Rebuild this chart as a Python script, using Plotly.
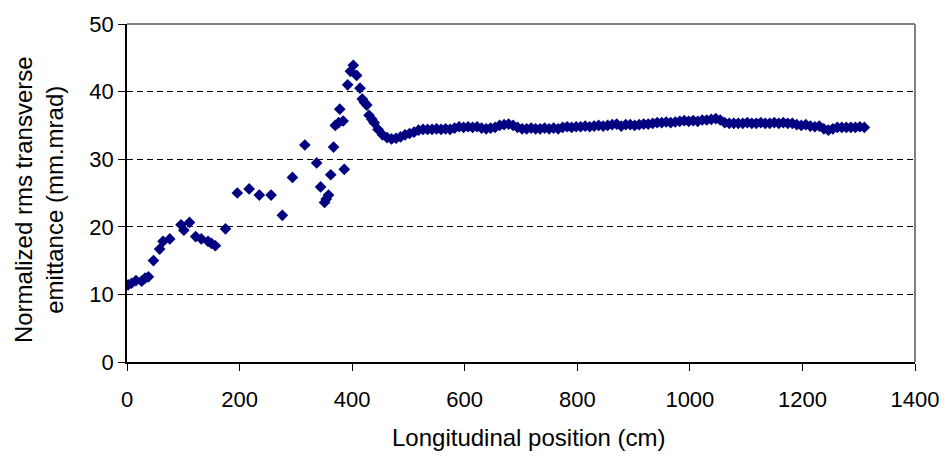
import plotly.graph_objects as go

# Longitudinal position (cm) and normalized rms transverse emittance (mm.mrad)
position_cm = [
    2, 8, 16, 26, 32, 38, 47, 58, 64, 76, 96, 101, 111, 122, 132, 144, 150, 157,
    175, 196, 217, 235, 256, 276, 294, 316, 337, 344, 351, 354, 358, 362, 367,
    370, 376, 378, 384, 386, 392, 397, 402, 408, 414, 418, 422, 426, 430, 435, 439,
    446, 454, 462, 470, 478, 486, 494, 502, 510, 518, 526, 534, 542, 550, 558,
    566, 574, 582, 590, 598, 606, 614, 622, 630, 638, 646, 654, 662, 670, 678,
    686, 694, 702, 710, 718, 726, 734, 742, 750, 758, 766, 774, 782, 790, 798,
    806, 814, 822, 830, 838, 846, 854, 862, 870, 878, 886, 894, 902, 910, 918,
    926, 934, 942, 950, 958, 966, 974, 982, 990, 998, 1006, 1014, 1022, 1030,
    1038, 1046, 1054, 1062, 1070, 1078, 1086, 1094, 1102, 1110, 1118, 1126,
    1134, 1142, 1150, 1158, 1166, 1174, 1182, 1190, 1198, 1206, 1214, 1222,
    1230, 1238, 1246, 1254, 1262, 1270, 1278, 1286, 1294, 1302, 1310,
]
emittance = [
    11.4, 11.65, 12.05, 11.95, 12.4, 12.6, 15.0, 16.7, 17.85, 18.2, 20.3, 19.5,
    20.65, 18.55, 18.2, 17.85, 17.55, 17.2, 19.7, 25.0, 25.6, 24.7, 24.7, 21.7,
    27.3, 32.1, 29.45, 25.9, 23.6, 24.1, 24.7, 27.7, 31.8, 35.0, 35.4, 37.4,
    35.65, 28.5, 41.0, 43.0, 43.9, 42.4, 40.5, 38.9, 38.4, 38.0, 36.5, 35.9, 35.4,
    34.4, 33.6, 33.2, 33.0, 33.1, 33.3, 33.6, 33.8, 34.0, 34.3, 34.4, 34.4, 34.4,
    34.5, 34.4, 34.5, 34.4, 34.6, 34.8, 34.7, 34.8, 34.7, 34.8, 34.6, 34.5, 34.6,
    34.7, 35.0, 35.1, 35.2, 35.0, 34.7, 34.5, 34.5, 34.6, 34.5, 34.5, 34.6, 34.5,
    34.6, 34.5, 34.7, 34.8, 34.7, 34.8, 34.8, 34.9, 34.8, 34.9, 35.0, 34.9, 35.0,
    35.1, 35.2, 34.9, 35.1, 35.1, 35.0, 35.1, 35.2, 35.2, 35.3, 35.4, 35.4, 35.5,
    35.4, 35.5, 35.6, 35.7, 35.6, 35.7, 35.6, 35.8, 35.8, 35.9, 36.0, 35.8, 35.4,
    35.3, 35.3, 35.3, 35.3, 35.4, 35.3, 35.3, 35.4, 35.3, 35.3, 35.4, 35.3, 35.4,
    35.3, 35.3, 35.1, 35.0, 35.1, 34.9, 34.8, 34.9, 34.5, 34.3, 34.5, 34.7, 34.7,
    34.7, 34.7, 34.7, 34.8, 34.7,
]

x_ticks = [0, 200, 400, 600, 800, 1000, 1200, 1400]
y_ticks = [0, 10, 20, 30, 40, 50]

y_title = "Normalized rms transverse<br>emittance (mm.mrad)"
x_title = "Longitudinal position (cm)"

FONT = "Liberation Sans, Arial, sans-serif"

fig = go.Figure()
fig.add_trace(go.Scatter(
    x=position_cm, y=emittance, mode="markers",
    marker=dict(symbol="diamond", size=9, color="#000080",
                line=dict(width=0)),
    showlegend=False, hoverinfo="x+y",
))

fig.update_layout(
    width=951, height=456,
    margin=dict(l=127, r=33, t=22, b=94),
    paper_bgcolor="white", plot_bgcolor="white",
    font=dict(family=FONT, size=22, color="black"),
    xaxis=dict(
        range=[0, 1400], tickvals=x_ticks, ticktext=[str(v) for v in x_ticks],
        showgrid=False, zeroline=False,
        showline=True, linecolor="black", linewidth=1.5,
        ticks="outside", ticklen=7, tickcolor="black", tickwidth=1,
        ticklabelstandoff=10,
        tickfont=dict(size=22),
    ),
    yaxis=dict(
        range=[0, 50], tickvals=y_ticks, ticktext=[str(v) for v in y_ticks],
        showgrid=True, gridcolor="black", gridwidth=1, griddash="6px,4px",
        zeroline=False,
        showline=True, linecolor="black", linewidth=1.5,
        ticks="outside", ticklen=7, tickcolor="black", tickwidth=1,
        tickfont=dict(size=22),
    ),
    shapes=[dict(
        type="line", xref="paper", yref="paper", x0=0, x1=1, y0=1, y1=1,
        line=dict(color="#808080", width=2), layer="above",
    ), dict(
        type="line", xref="paper", yref="paper", x0=1, x1=1, y0=0, y1=1,
        line=dict(color="#808080", width=2), layer="above",
    )],
    annotations=[
        dict(text=y_title, xref="paper", yref="paper", x=-0.1125, y=0.48,
             xanchor="center", yanchor="middle", textangle=-90,
             showarrow=False, font=dict(size=24, family=FONT)),
        dict(text=x_title, xref="paper", yref="paper", x=0.509, y=-0.224,
             xanchor="center", yanchor="middle",
             showarrow=False, font=dict(size=24, family=FONT)),
    ],
)

fig.write_html("out.html")
